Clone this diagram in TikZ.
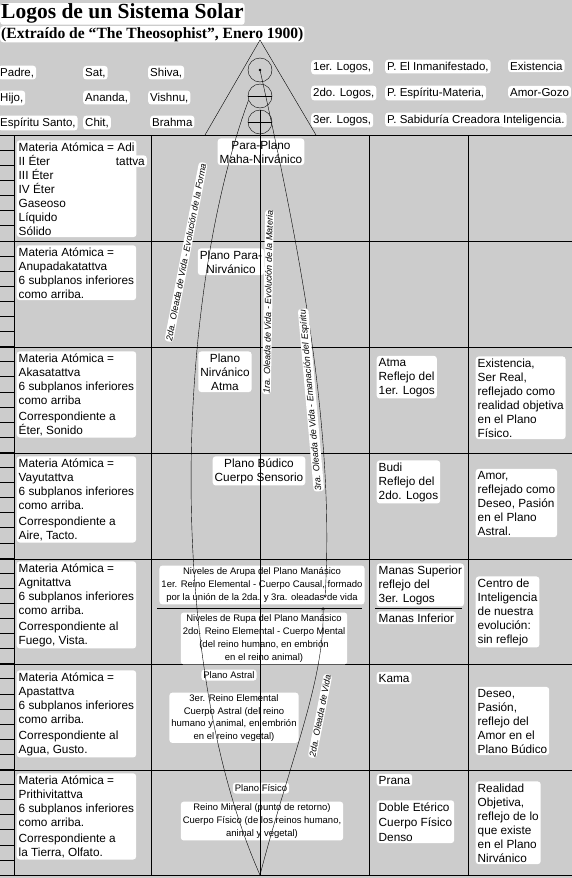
\documentclass[tikz,border=0pt]{standalone}
\usepackage{fontspec}
\setmainfont{Liberation Sans}
\newfontfamily\titlefont{Liberation Serif}
\usepackage{tikz}
\usetikzlibrary{arrows,positioning}
\definecolor{fondo}{RGB}{204,204,204}

\begin{document}
\begin{tikzpicture}[
    x=1pt, y=-1pt,
    halo/.style={fill=white, rounded corners=3pt, inner sep=2pt},
    celda/.style={halo, align=left, anchor=base west, font=\fontsize{11.8}{14}\selectfont},
    centro/.style={halo, align=center, anchor=base, font=\fontsize{11.8}{14}\selectfont},
    nota/.style={halo, align=center, anchor=base, font=\fontsize{9.5}{13}\selectfont},
    cabeza/.style={halo, anchor=base west, font=\fontsize{11.5}{14}\selectfont},
    ola/.style={halo, inner sep=1pt, font=\fontsize{9}{11}\selectfont\itshape},
    logo/.style={circle, draw, minimum size=24pt, inner sep=0pt},
    flujo/.style={->, >=stealth}
]
    \fill[fondo] (0,0) rectangle (572,878);
    \useasboundingbox (0,0) rectangle (572,878);

    \node[halo, anchor=base west, inner sep=1pt, font=\titlefont\bfseries\fontsize{21.5}{24}\selectfont] (titulo) at (0,19) {Logos de un Sistema Solar};
    \node[halo, anchor=base west, inner sep=1pt, font=\titlefont\bfseries\fontsize{15.6}{18}\selectfont] (fuente) at (0,38) {(Extraído de “The Theosophist”, Enero 1900)};

    \node[cabeza] (padre) at (-2,76) {Padre,};
    \node[cabeza] (sat) at (83,76) {Sat,};
    \node[cabeza] (shiva) at (148,76) {Shiva,};
    \node[cabeza] (hijo) at (-2,101) {Hijo,};
    \node[cabeza] (ananda) at (83,101) {Ananda,};
    \node[cabeza] (vishnu) at (148,101) {Vishnu,};
    \node[cabeza] (espiritu) at (-2,126) {Espíritu Santo,};
    \node[cabeza] (chit) at (83,126) {Chit,};
    \node[cabeza] (brahma) at (150,126) {Brahma};

    \node[cabeza] (logos1) at (311,70) {1er. Logos,};
    \node[cabeza] (plano1) at (385,70) {P. El Inmanifestado,};
    \node[cabeza] (aspecto1) at (508,70) {Existencia};
    \node[cabeza] (logos2) at (311,96) {2do. Logos,};
    \node[cabeza] (plano2) at (385,96) {P. Espíritu-Materia,};
    \node[cabeza] (aspecto2) at (508,96) {Amor-Gozo};
    \node[cabeza] (logos3) at (311,123) {3er. Logos,};
    \node[cabeza] (plano3) at (385,123) {P. Sabiduría Creadora,};
    \node[cabeza] (aspecto3) at (501,123) {Inteligencia.};

    \coordinate (apex) at (260,40);
    \coordinate (baseL) at (205,135);
    \coordinate (baseR) at (316,135);
    \draw (baseL) -- (apex) -- (baseR);
    \node[logo] (c1) at (260,70) {};
    \node[logo] (c2) at (260,96) {};
    \node[logo] (c3) at (260,122) {};
    \fill (c1.center) circle (1.3);
    \draw (c2.west) -- (c2.east);
    \draw (c3.west) -- (c3.east) (c3.north) -- (c3.south);

    \foreach \y in {135,241,347,453,559,664,770,875}
        \draw (0,\y) -- (572,\y);
    \foreach \x in {14,151,369,468}
        \draw (\x,135) -- (\x,875);
    \foreach \k in {1,...,48}
        \draw (0,135+\k*15.1) -- (14,135+\k*15.1);
    \draw (157,608) -- (362,608);
    \draw (375,608) -- (462,608);

    \node[celda] (m1) at (16.5,235) {Materia Atómica = Adi\\II Éter\\III Éter\\IV Éter\\Gaseoso\\Líquido\\Sólido};
    \node[halo, anchor=base east, font=\fontsize{11.8}{14}\selectfont] (m1b) at (147,165) {tattva};
    \node[celda] (m2) at (16.5,298) {Materia Atómica =\\Anupadakatattva\\6 subplanos inferiores\\como arriba.};
    \node[celda] (m3) at (16.5,434) {Materia Atómica =\\Akasatattva\\6 subplanos inferiores\\como arriba\\[2pt]Correspondiente a\\Éter, Sonido};
    \node[celda] (m4) at (16.5,539) {Materia Atómica =\\Vayutattva\\6 subplanos inferiores\\como arriba.\\[2pt]Correspondiente a\\Aire, Tacto.};
    \node[celda] (m5) at (16.5,644) {Materia Atómica =\\Agnitattva\\6 subplanos inferiores\\como arriba.\\[2pt]Correspondiente al\\Fuego, Vista.};
    \node[celda] (m6) at (16.5,753) {Materia Atómica =\\Apastattva\\6 subplanos inferiores\\como arriba.\\[2pt]Correspondiente al\\Agua, Gusto.};
    \node[celda] (m7) at (16.5,856) {Materia Atómica =\\Prithivitattva\\6 subplanos inferiores\\como arriba.\\[2pt]Correspondiente a\\la Tierra, Olfato.};

    \node[centro] (p1) at (261,163) {Para-Plano\\Maha-Nirvánico};
    \node[centro] (p2) at (231,273) {Plano Para-\\Nirvánico};
    \node[centro] (p3) at (225,390) {Plano\\Nirvánico\\Atma};
    \node[centro] (p4) at (259,481) {Plano Búdico\\Cuerpo Sensorio};
    \node[nota] (p5a) at (262,600.5) {Niveles de Arupa del Plano Manásico\\1er. Reino Elemental - Cuerpo Causal, formado\\por la unión de la 2da. y 3ra. oleadas de vida};
    \node[nota] (p5b) at (264,660.5) {Niveles de Rupa del Plano Manásico\\2do. Reino Elemental - Cuerpo Mental\\(del reino humano, en embrión\\en el reino animal)};
    \node[nota] (p6a) at (229,678.5) {Plano Astral};
    \node[nota, font=\fontsize{9.5}{12.5}\selectfont] (p6b) at (234,739) {3er. Reino Elemental\\Cuerpo Astral (del reino\\humano y animal, en embrión\\en el reino vegetal)};
    \node[nota] (p7a) at (261,791.5) {Plano Físico};
    \node[nota] (p7b) at (262,836.5) {Reino Mineral (punto de retorno)\\Cuerpo Físico (de los reinos humano,\\animal y vegetal)};

    \node[celda] (v3) at (376.5,394) {Atma\\Reflejo del\\1er. Logos};
    \node[celda] (v4) at (376.5,499) {Budi\\Reflejo del\\2do. Logos};
    \node[celda] (v5a) at (376.5,602) {Manas Superior\\reflejo del\\3er. Logos};
    \node[celda] (v5b) at (376.5,622) {Manas Inferior};
    \node[celda] (v6) at (376.5,682) {Kama};
    \node[celda] (v7a) at (376.5,784) {Prana};
    \node[celda, font=\fontsize{11.8}{15}\selectfont] (v7b) at (376.5,841) {Doble Etérico\\Cuerpo Físico\\Denso};

    \node[celda] (r3) at (475.5,437) {Existencia,\\Ser Real,\\reflejado como\\realidad objetiva\\en el Plano\\Físico.};
    \node[celda] (r4) at (475.5,535) {Amor,\\reflejado como\\Deseo, Pasión\\en el Plano\\Astral.};
    \node[celda] (r5) at (475.5,643) {Centro de\\Inteligencia\\de nuestra\\evolución:\\sin reflejo};
    \node[celda] (r6) at (475.5,753) {Deseo,\\Pasión,\\reflejo del\\Amor en el\\Plano Búdico};
    \node[celda] (r7) at (475.5,862) {Realidad\\Objetiva,\\reflejo de lo\\que existe\\en el Plano\\Nirvánico};

    \coordinate (fin) at (260,875);
    \coordinate (baja) at (325,598);
    \coordinate (sube) at (323,607);
    \draw (c2.200) .. controls (175,300) and (165,660) .. (fin);
    \draw (c3.south) -- (fin);
    \draw[flujo] (c1.center) .. controls (300,250) and (335,430) .. (baja);
    \draw[flujo] (fin) .. controls (290,760) and (325,680) .. (sube);

    \node[ola, rotate=79] (ola2) at (186,252) {2da. Oleada de Vida - Evolución de la Forma};
    \node[ola, rotate=89] (ola1) at (268,302) {1ra. Oleada de Vida - Evolución de la Materia};
    \node[ola, rotate=95] (ola3) at (311,400) {3ra. Oleada de Vida - Emanación del Espíritu};
    \node[ola, rotate=79] (ola2b) at (320,716) {2da. Oleada de Vida};
\end{tikzpicture}
\end{document}
